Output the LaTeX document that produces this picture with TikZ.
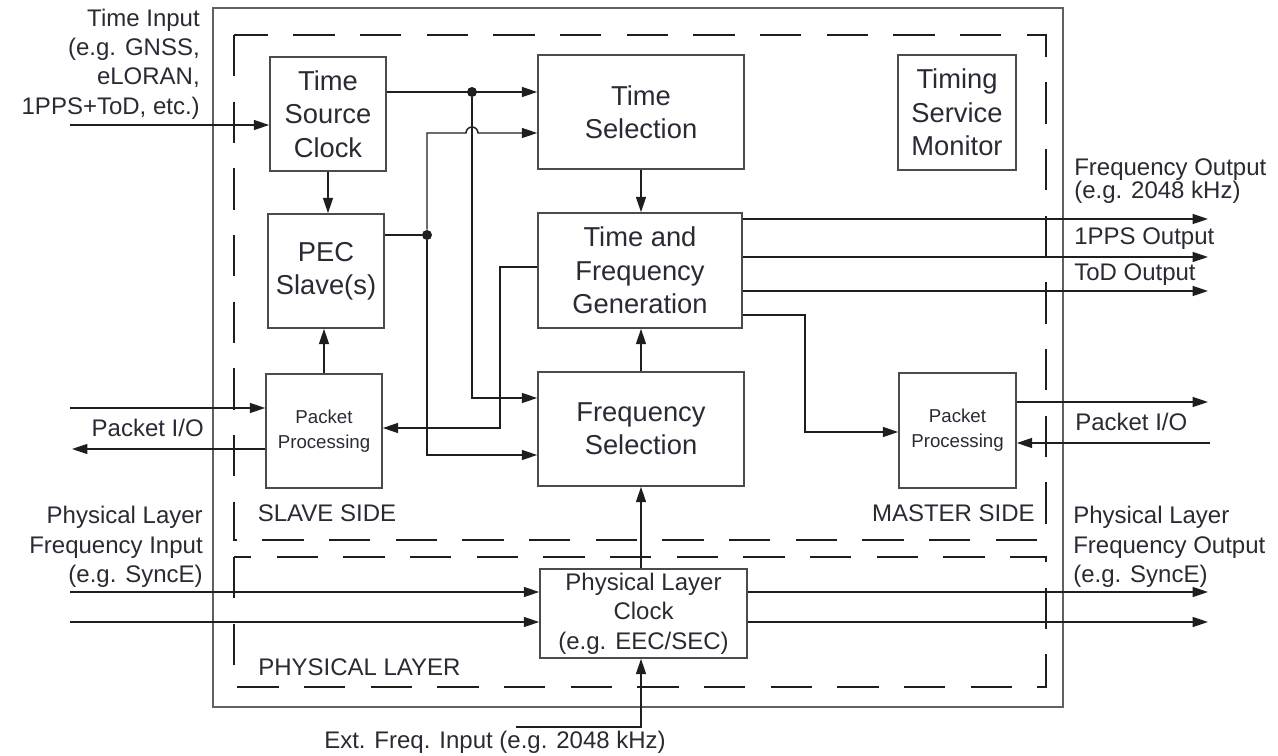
\documentclass[tikz,border=0pt]{standalone}
\usepackage{fontspec}
\setmainfont{Liberation Sans}
\usetikzlibrary{arrows.meta,calc}
\definecolor{txt}{RGB}{45,40,52}
\definecolor{ln}{RGB}{30,30,30}
\begin{document}
\begin{tikzpicture}[x=0.75pt,y=-0.75pt,
  box/.style 2 args={draw=ln!80, line width=1.2pt, inner sep=0pt, align=center, text=txt,
    minimum width=#1*0.75pt, minimum height=#2*0.75pt,
    font=\fontsize{20.5}{25}\selectfont},
  lbl/.style={text=txt, inner sep=0pt, font=\fontsize{18}{22}\selectfont},
  small/.style={font=\fontsize{14}{19}\selectfont},
  conn/.style={draw=ln, line width=1.05pt},
  arr/.style={conn, -{Triangle[length=11.5pt,width=7.5pt]}},
  dbox/.style={draw=ln, line width=1.8pt, dash pattern=on 31pt off 19pt},
  dot/.style={circle, fill=ln, inner sep=0pt, minimum size=7.5pt}
]
\useasboundingbox (0,0) rectangle (1278,756);
% frames
\node[draw=ln!70, line width=1pt, inner sep=0pt, minimum width=850*0.75pt, minimum height=699*0.75pt] (outer) at (638,357.5) {};
\draw[dbox] (234,35) rectangle (1046,540);
\draw[dbox] (234,557) rectangle (1046,687);
% blocks
\node[box={116}{114}] (tsc) at (328,114) {Time\\Source\\Clock};
\node[box={116}{114}] (pec) at (326,271) {PEC\\Slave(s)};
\node[box={116}{114}, small] (ppl) at (324,431) {Packet\\Processing};
\node[box={206}{114}] (tsel) at (641,112) {Time\\Selection};
\node[box={204}{115}] (tfg) at (640,270.5) {Time and\\Frequency\\Generation};
\node[box={206}{114}] (fsel) at (641,429) {Frequency\\Selection};
\node[box={118}{115}] (tsm) at (957,112.5) {Timing\\Service\\Monitor};
\node[box={117}{115}, small] (ppr) at (957.5,430.5) {Packet\\Processing};
\node[box={207}{89}, font=\fontsize{18}{22}\selectfont] (plc) at (643.5,613.5) {Physical Layer\\Clock\\(e.g. EEC/SEC)};
% labels
\node[lbl, align=right, anchor=east] (ti) at (200,64) {Time Input\\(e.g. GNSS,\\eLORAN,\\1PPS+ToD, etc.)};
\node[lbl, anchor=east] (pio1) at (204,428) {Packet I/O};
\node[lbl, align=right, anchor=east] (pli) at (203,547) {Physical Layer\\Frequency Input\\(e.g. SyncE)};
\node[lbl] (ss) at (327,513) {SLAVE SIDE};
\node[lbl, anchor=east] (ms) at (1035,513) {MASTER SIDE};
\node[lbl, anchor=west] (pl) at (258,667) {PHYSICAL LAYER};
\node[lbl] (ext) at (495,742) {Ext. Freq. Input (e.g. 2048 kHz)};
\node[lbl, align=left, anchor=west, font=\fontsize{18}{17.5}\selectfont] (fo) at (1074,181) {Frequency Output\\(e.g. 2048 kHz)};
\node[lbl, anchor=west] (pps) at (1074,239) {1PPS Output};
\node[lbl, anchor=west] (tod) at (1074,275) {ToD Output};
\node[lbl, anchor=west] (pio2) at (1075,422) {Packet I/O};
\node[lbl, align=left, anchor=west] (plo) at (1073,547) {Physical Layer\\Frequency Output\\(e.g. SyncE)};
% free ends
\coordinate (tin) at (70,125);
\coordinate (pin) at (70,408);
\coordinate (pout) at (72,449);
\coordinate (fin1) at (70,592);
\coordinate (fin2) at (70,622);
\coordinate (fo1) at (1208,219);
\coordinate (fo2) at (1208,257);
\coordinate (fo3) at (1208,291);
\coordinate (rout) at (1208,402);
\coordinate (rin) at (1210,443);
\coordinate (pho1) at (1208,592);
\coordinate (pho2) at (1208,622);
\coordinate (exin) at (516,727);
% junctions
\node[dot] (j1) at (472,92) {};
\node[dot] (j2) at (427,235) {};
% connectors
\draw[arr] (tin) -- (tin -| tsc.west);
\draw[arr] (tsc.east |- j1) -- (tsel.west |- j1);
\draw[arr] (j1) -- (472,398) -- (fsel.west |- 0,398);
\draw[conn] (pec.east |- j2) -- (j2);
\draw[arr] (j2) -- (427,133) -- (466,133) arc (180:360:6) -- (tsel.west |- 0,133);
\draw[arr] (j2) -- (427,455) -- (fsel.west |- 0,455);
\draw[arr] (tfg.west |- 0,267) -- (500,267) -- (500,428) -- (ppl.east |- 0,428);
\draw[arr] (tsc.south) -- (tsc.south |- pec.north);
\draw[arr] (ppl.north) -- (ppl.north |- pec.south);
\draw[arr] (tsel.south) -- (tsel.south |- tfg.north);
\draw[arr] (fsel.north) -- (fsel.north |- tfg.south);
\draw[arr] (fsel.south |- plc.north) -- (fsel.south);
\draw[arr] (tfg.east |- fo1) -- (fo1);
\draw[arr] (tfg.east |- fo2) -- (fo2);
\draw[arr] (tfg.east |- fo3) -- (fo3);
\draw[arr] (tfg.east |- 0,315) -- (805,315) -- (805,432) -- (ppr.west |- 0,432);
\draw[arr] (ppr.east |- rout) -- (rout);
\draw[arr] (rin) -- (rin -| ppr.east);
\draw[arr] (pin) -- (pin -| ppl.west);
\draw[arr] (ppl.west |- pout) -- (pout);
\draw[arr] (fin1) -- (fin1 -| plc.west);
\draw[arr] (fin2) -- (fin2 -| plc.west);
\draw[arr] (plc.east |- pho1) -- (pho1);
\draw[arr] (plc.east |- pho2) -- (pho2);
\draw[arr] (exin) -- (exin -| fsel.south) -- (fsel.south |- plc.south);
\end{tikzpicture}
\end{document}
